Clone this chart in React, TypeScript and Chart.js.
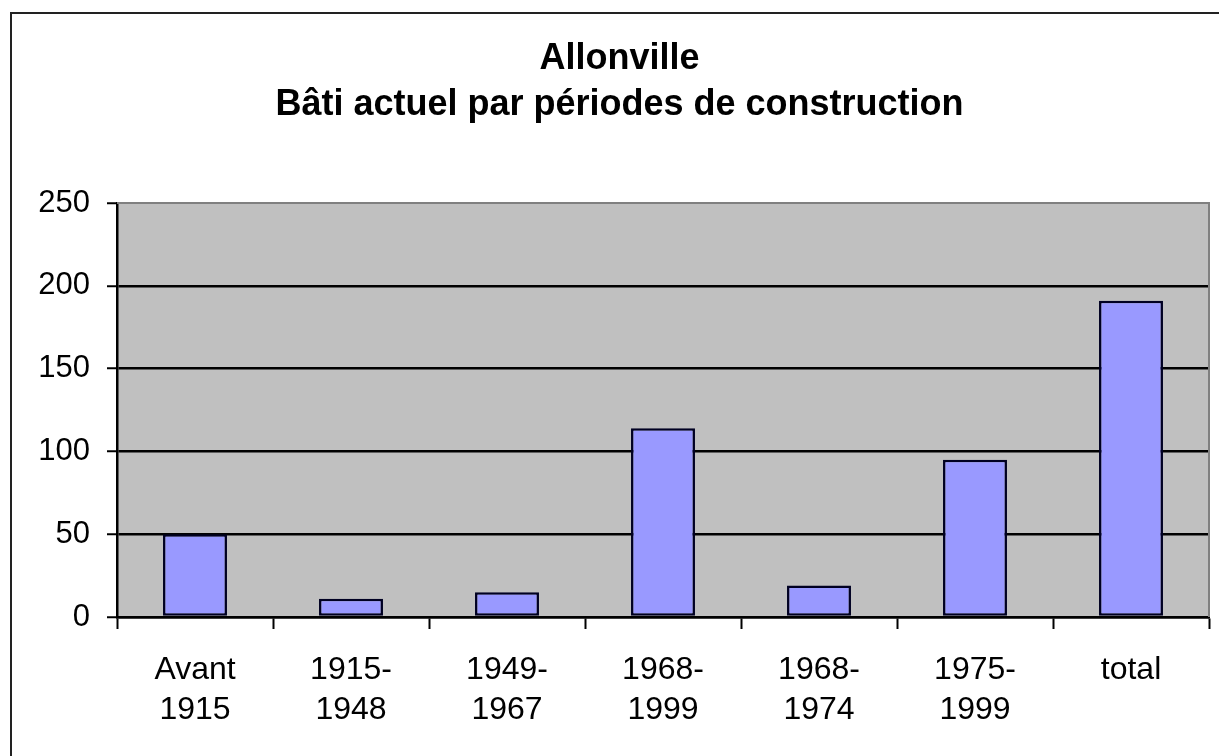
import React, { useEffect, useRef } from "react";
import { Chart, registerables } from "chart.js";

Chart.register(...registerables);

const categories: string[][] = [
  ["Avant", "1915"],
  ["1915-", "1948"],
  ["1949-", "1967"],
  ["1968-", "1999"],
  ["1968-", "1974"],
  ["1975-", "1999"],
  ["total"],
];
const values: number[] = [50, 11, 15, 114, 19, 95, 191];
const titleLines: string[] = ["Allonville", "Bâti actuel par périodes de construction"];
const yMin = 0;
const yMax = 250;
const yStep = 50;

const FONT = "'Liberation Sans', Arial, sans-serif";

const plotBg = {
  id: "plotBg",
  beforeDraw(chart: any) {
    const { ctx, chartArea } = chart;
    ctx.save();
    ctx.fillStyle = "#C0C0C0";
    ctx.fillRect(chartArea.left, chartArea.top, chartArea.right - chartArea.left, chartArea.bottom - chartArea.top);
    ctx.restore();
  },
  afterDatasetsDraw(chart: any) {
    const { ctx, chartArea } = chart;
    ctx.save();
    ctx.strokeStyle = "#808080";
    ctx.lineWidth = 2;
    ctx.beginPath();
    ctx.moveTo(chartArea.left, chartArea.top);
    ctx.lineTo(chartArea.right, chartArea.top);
    ctx.lineTo(chartArea.right, chartArea.bottom);
    ctx.stroke();
    ctx.restore();
  },
};

const frame = {
  id: "frame",
  afterDraw(chart: any) {
    const { ctx } = chart;
    ctx.save();
    ctx.strokeStyle = "#222";
    ctx.lineWidth = 2;
    ctx.beginPath();
    ctx.moveTo(11, chart.height + 5);
    ctx.lineTo(11, 13);
    ctx.lineTo(chart.width + 5, 13);
    ctx.stroke();
    ctx.restore();
  },
};

export default function App() {
  const ref = useRef<HTMLCanvasElement | null>(null);
  useEffect(() => {
    if (!ref.current) return;
    const chart = new Chart(ref.current, {
      type: "bar",
      data: {
        labels: categories,
        datasets: [
          {
            data: values,
            backgroundColor: "#9999FF",
            borderColor: "#000022",
            borderWidth: 2.5,
            borderSkipped: false,
            categoryPercentage: 1,
            barPercentage: 0.41,
          },
        ],
      },
      options: {
        animation: false,
        responsive: false,
        maintainAspectRatio: false,
        layout: { padding: { left: 30, right: 10, top: 0, bottom: 0 } },
        plugins: {
          legend: { display: false },
          tooltip: { enabled: false },
          title: {
            display: true,
            text: titleLines,
            color: "#000",
            font: { family: FONT, size: 36, weight: "bold", lineHeight: 46 / 36 },
            padding: { top: 36, bottom: 75 },
          },
        },
        scales: {
          x: {
            afterFit(scale: any) {
              scale.height = 139;
            },
            grid: {
              display: true,
              offset: true,
              drawOnChartArea: false,
              drawTicks: true,
              tickLength: 12,
              tickColor: "#000",
              tickWidth: 2,
            },
            border: { display: true, color: "#000", width: 2.5 },
            ticks: {
              color: "#000",
              padding: 21,
              maxRotation: 0,
              autoSkip: false,
              font: { family: FONT, size: 32, lineHeight: 40 / 32 },
            },
          },
          y: {
            min: yMin,
            max: yMax,
            afterFit(scale: any) {
              scale.width = 87;
            },
            grid: {
              color: (c: any) => (c.tick && c.tick.value === yMax ? "rgba(0,0,0,0)" : "#000"),
              lineWidth: 2.5,
              drawTicks: true,
              tickLength: 10,
              tickColor: "#000",
              tickWidth: 2,
            },
            border: { display: true, color: "#000", width: 2.5 },
            ticks: {
              stepSize: yStep,
              color: "#000",
              padding: 17,
              font: { family: FONT, size: 31 },
            },
          },
        },
      },
      plugins: [plotBg, frame],
    });
    return () => chart.destroy();
  }, []);
  return (
    <div style={{ position: "fixed", left: 0, top: 0, width: 1219, height: 756, background: "#fff", overflow: "hidden" }}>
      <canvas ref={ref} width={1219} height={756} style={{ display: "block" }} />
    </div>
  );
}
